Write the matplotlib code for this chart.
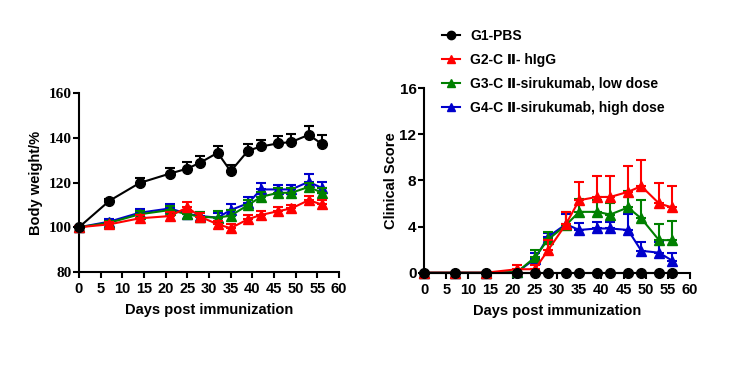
import numpy as np
import matplotlib
matplotlib.use("Agg")
import matplotlib.pyplot as plt
from matplotlib.lines import Line2D

plt.rcParams['font.family'] = ['Liberation Sans', 'DejaVu Sans']
plt.rcParams['font.weight'] = 'bold'

# --- data ---------------------------------------------------------------
days = [0, 7, 14, 21, 25, 28, 32, 35, 39, 42, 46, 49, 53, 56]
labels = ["G1-PBS", "G2-C Ⅱ- hIgG", "G3-C Ⅱ-sirukumab, low dose",
          "G4-C Ⅱ-sirukumab, high dose"]
colors = ["#000000", "#FF0000", "#008000", "#0000CC"]
markers = ["o", "^", "^", "^"]

bw_g1 = [100, 111.8, 119.8, 124.0, 126.2, 128.9, 133.3, 125.0, 134.2, 136.1, 137.5, 138.1, 141.3, 137.3]
bw_g2 = [100, 101.3, 104.0, 105.0, 108.9, 104.7, 101.3, 99.6, 103.6, 105.5, 107.2, 108.4, 112.1, 110.2]
bw_g3 = [100, 102.0, 105.8, 107.7, 105.8, 104.7, 104.3, 105.2, 109.9, 113.6, 115.4, 115.4, 118.0, 115.5]
bw_g4 = [100, 102.5, 106.5, 108.4, 106.0, 105.0, 104.3, 107.7, 110.7, 116.9, 116.9, 116.9, 120.3, 117.6]
bw_e1 = [0, 0.8, 2.0, 2.7, 3.0, 2.8, 2.9, 2.7, 3.1, 3.0, 3.4, 3.7, 4.1, 4.0]
bw_e2 = [0.5, 1.0, 1.6, 1.8, 2.2, 1.5, 1.6, 1.8, 2.0, 1.9, 1.8, 1.7, 1.9, 1.8]
bw_e3 = [0.5, 1.0, 1.5, 1.8, 1.8, 2.2, 3.0, 2.5, 2.2, 2.3, 2.0, 2.3, 2.0, 2.2]
bw_e4 = [0.5, 1.0, 1.7, 2.0, 1.8, 2.0, 2.0, 2.8, 2.9, 2.8, 2.2, 2.2, 3.4, 2.5]

cs_g1 = [0, 0, 0, 0, 0, 0, 0, 0, 0, 0, 0, 0, 0, 0]
cs_g2 = [0, 0, 0, 0.3, 0.3, 1.96, 4.2, 6.28, 6.56, 6.56, 7.0, 7.5, 6.0, 5.65]
cs_g3 = [0, 0, 0, 0.05, 1.33, 2.88, 4.12, 5.27, 5.27, 5.04, 5.65, 4.7, 2.82, 2.82]
cs_g4 = [0, 0, 0, 0.05, 1.2, 3.1, 4.2, 3.7, 3.83, 3.83, 3.7, 1.9, 1.73, 1.04]
cs_e1 = [0, 0, 0, 0, 0, 0, 0, 0, 0, 0, 0, 0, 0, 0]
cs_e2 = [0, 0, 0, 0.4, 0.4, 0.9, 1.1, 1.58, 1.84, 1.84, 2.2, 2.3, 1.8, 1.85]
cs_e3 = [0, 0, 0, 0, 0.63, 0.62, 1.18, 1.13, 1.0, 0.96, 1.45, 1.64, 1.36, 1.64]
cs_e4 = [0, 0, 0, 0, 0.5, 0.3, 0.9, 0.6, 0.6, 0.57, 1.37, 0.78, 0.95, 0.64]

bw = [bw_g1, bw_g2, bw_g3, bw_g4]
bw_err = [bw_e1, bw_e2, bw_e3, bw_e4]
cs = [cs_g1, cs_g2, cs_g3, cs_g4]
cs_err = [cs_e1, cs_e2, cs_e3, cs_e4]

fig = plt.figure(figsize=(7.53, 3.65), dpi=100)
ax1 = fig.add_axes([0.1049, 0.2548, 0.3453, 0.4904])
ax2 = fig.add_axes([0.5631, 0.2529, 0.3533, 0.506])


def draw(ax, ys, errs):
    for i in [3, 2, 1, 0]:
        y = np.array(ys[i]); e = np.array(errs[i])
        eb = ax.errorbar(days, y, yerr=[np.zeros_like(e), e], color=colors[i],
                         marker=markers[i], markersize=7, lw=1.5,
                         elinewidth=1.5, capsize=3.5, capthick=1.5,
                         clip_on=False, zorder=3 + (3 - i))
        for art in eb.lines[1] + eb.lines[2]:
            art.set_clip_on(False)


def style(ax):
    for s in ["top", "right"]:
        ax.spines[s].set_visible(False)
    for s in ["left", "bottom"]:
        ax.spines[s].set_linewidth(1.5)
    ax.tick_params(width=1.5, length=4, labelsize=10.5, pad=1.5)
    ax.tick_params(axis="x", pad=3.5)
    ax.set_xlim(0, 60)
    ax.set_xticks(range(0, 61, 5))
    ax.set_xlabel("Days post immunization", fontsize=10.5, fontweight="bold",
                  labelpad=5)


draw(ax1, bw, bw_err)
style(ax1)
ax1.set_ylim(80, 160)
ax1.set_yticks(range(80, 161, 20))
for t in ax1.get_yticklabels():
    t.set_family("Liberation Serif")
    t.set_fontweight("bold")
    t.set_fontsize(11)
ax1.set_ylabel("Body weight/%", fontsize=10.5, fontweight="bold", labelpad=4)

draw(ax2, cs, cs_err)
style(ax2)
ax2.set_ylim(0, 16)
ax2.set_yticks(range(0, 17, 4))
ax2.tick_params(axis="y", labelsize=11)
ax2.set_ylabel("Clinical Score", fontsize=10.5, fontweight="bold", labelpad=1)

handles = [Line2D([], [], color=c, marker=m, markersize=6, lw=1.5)
           for c, m in zip(colors, markers)]
fig.legend(handles, labels, loc="upper left", bbox_to_anchor=(0.57, 0.955),
           frameon=False, handlelength=1.3, labelspacing=0.72,
           handletextpad=0.75, prop={"weight": "bold", "size": 10})

fig.savefig("out.png", dpi=100)
